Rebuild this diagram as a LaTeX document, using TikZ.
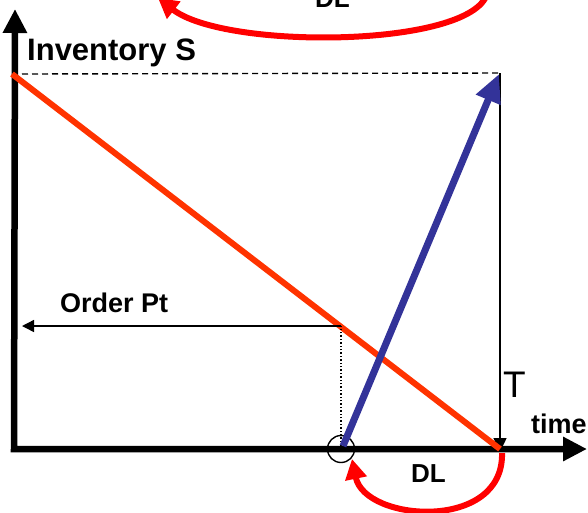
\documentclass[tikz,border=0pt]{standalone}
\usepackage{fontspec}
\setmainfont{Liberation Sans}
\usetikzlibrary{arrows.meta}

\definecolor{usage}{RGB}{255,51,0}
\definecolor{refill}{RGB}{51,51,153}
\definecolor{lead}{RGB}{255,0,0}

\tikzset{
  axis/.style={line width=6.5pt, line join=miter,
    {Triangle[length=24pt,width=23pt]}-{Triangle[length=24pt,width=23pt]}},
  thin/.style={line width=1.4pt},
  leadarc/.style={lead, line width=6pt, -{Triangle[length=20pt,width=21pt]}},
  lbl/.style={anchor=base west, inner sep=0pt}
}

\begin{document}
\begin{tikzpicture}[x=1pt, y=-1pt]
        \useasboundingbox (0,0) rectangle (588,512);

        % Key points (pixel grid, y downwards)
        \coordinate (ytop)  at (15,9);
        \coordinate (orig)  at (14,449);
        \coordinate (xend)  at (587,449);
        \coordinate (smax)  at (12,74);
        \coordinate (dtop)  at (22,74);
        \coordinate (ttop)  at (500,73);
        \coordinate (tend)  at (500,452);
        \coordinate (rend)  at (500,449);
        \coordinate (opt)   at (341,449);
        \coordinate (oplev) at (341,326);
        \coordinate (opend) at (22,326);
        \coordinate (bfoot) at (343,446);
        \coordinate (btip)  at (499,74);

        % Axes
        \draw[axis] (ytop) -- (orig) -- (xend);

        % Maximum level
        \draw[thin, dashed, dash pattern=on 6pt off 4pt] (dtop) -- (ttop);

        % Cycle length T
        \draw[thin, -{Triangle[length=14pt,width=13pt]}] (ttop) -- (tend);

        % Stock depletion
        \draw[usage, line width=6pt] (smax) -- (rend);

        % Order point
        \draw[thin, dotted] (opt) -- (oplev);
        \draw[thin, -{Triangle[length=12pt,width=12pt]}] (oplev) -- (opend);
        \draw[line width=1.4pt] (opt) circle (13.5);

        % Replenishment
        \draw[refill, line width=7pt, -{Triangle[length=28pt,width=25pt]}] (bfoot) -- (btip);

        % Lead time arcs
        \draw[leadarc] (502,453) .. controls (504,532) and (365,522) .. (352,459);
        \draw[leadarc] (487,-6) .. controls (470,48) and (225,50) .. (158,-2);

        % Labels
        \node[lbl, font=\fontsize{31}{31}\selectfont\bfseries] (inv) at (27,60) {Inventory S};
        \node[lbl, font=\fontsize{27}{27}\selectfont\bfseries] (ordpt) at (60,312) {Order Pt};
        \node[lbl, font=\fontsize{27}{27}\selectfont\bfseries] (time) at (531,433) {time};
        \node[lbl, font=\fontsize{37}{37}\selectfont] (tlab) at (503,397) {T};
        \node[lbl, font=\fontsize{26}{26}\selectfont\bfseries] (dlbot) at (411,482) {DL};
        \node[lbl, font=\fontsize{26}{26}\selectfont\bfseries] (dltop) at (315,7) {DL};
\end{tikzpicture}
\end{document}
